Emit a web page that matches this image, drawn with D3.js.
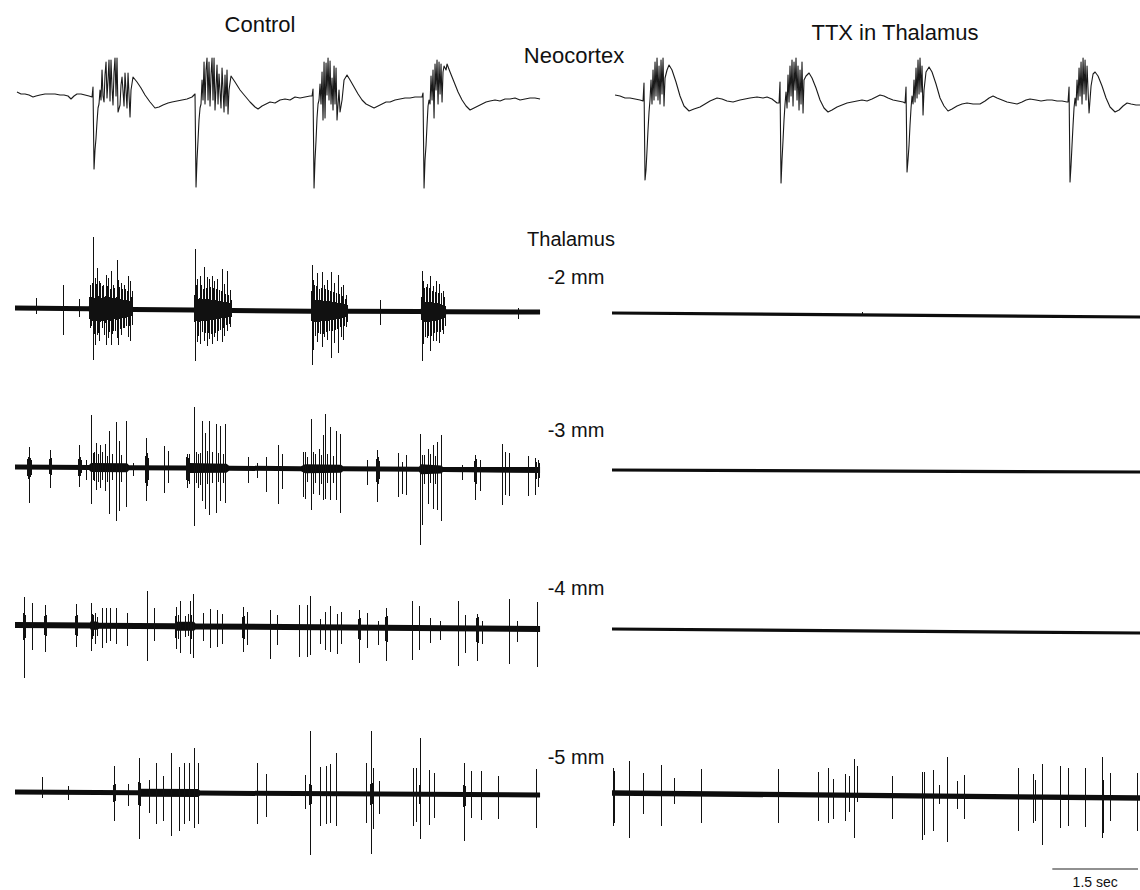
<!DOCTYPE html>
<html>
<head>
<meta charset="utf-8">
<script src="https://cdn.jsdelivr.net/npm/d3@7"></script>
<style>
  body { margin: 0; background: #fff; }
  svg { display: block; }
  text { font-family: "Liberation Sans", Arial, sans-serif; fill: #111; }
</style>
</head>
<body>
<script>
// ---------------------------------------------------------------
// Field potentials: neocortex (stored in µV) and thalamic
// multi-unit records at four depths. Time in ms from sweep start.
// ---------------------------------------------------------------

// Neocortical EEG, control sweep: [time ms, µV]
const neoControl = [
  [35,50],[105,30],[175,30],[245,20],[315,0],[368,10],[438,20],[525,30],[613,30],[700,30],[788,20],[858,20],[928,10],[980,-20],[1033,10],[1085,30],[1155,30],[1225,20],[1295,10],[1348,0],
  [1365,100],[1383,-720],[1400,-530],[1418,-410],[1435,-250],[1453,-110],[1470,-70],[1488,70],[1505,-30],[1523,270],[1540,10],[1558,-50],[1575,220],[1593,350],[1610,-10],[1628,170],[1645,370],[1663,-40],[1680,370],[1698,90],[1715,-80],[1733,250],[1750,390],[1768,10],[1785,390],[1803,-150],[1838,-80],[1855,120],[1873,200],[1908,-90],[1925,240],[1960,-110],[1978,240],[2013,-200],[2030,70],[2065,200],[2135,150],[2205,90],[2275,20],[2363,-50],[2450,-110],[2520,-100],[2590,-80],[2678,-60],[2748,-50],[2835,-40],[2923,-30],[3010,-20],[3098,0],
  [3150,30],[3168,-900],[3185,-630],[3203,-430],[3220,-230],[3238,-110],[3255,-70],[3273,170],[3290,-30],[3308,350],[3325,-70],[3343,270],[3360,390],[3378,-30],[3395,350],[3413,-90],[3430,220],[3448,390],[3465,-30],[3483,390],[3500,-130],[3535,320],[3553,-70],[3570,230],[3605,-110],[3623,290],[3658,-150],[3675,220],[3693,-90],[3710,270],[3728,-170],[3745,70],[3780,210],[3850,150],[3938,70],[4025,10],[4113,-50],[4200,-100],[4253,-120],[4323,-90],[4393,-70],[4463,-50],[4550,-60],[4638,-30],[4725,-20],[4813,-30],[4900,0],[4988,-10],[5075,0],[5163,10],
  [5198,10],[5215,80],[5233,-910],[5250,-630],[5268,-430],[5285,-210],[5303,-70],[5320,-30],[5338,130],[5355,-70],[5373,250],[5390,-230],[5408,350],[5425,-210],[5443,340],[5460,20],[5478,390],[5495,-30],[5513,360],[5530,-70],[5548,190],[5565,-130],[5583,310],[5600,-70],[5618,290],[5635,-230],[5670,70],[5688,-150],[5723,-30],[5758,170],[5810,220],[5863,170],[5933,100],[6003,30],[6073,-30],[6143,-70],[6213,-90],[6283,-110],[6353,-90],[6423,-70],[6493,-50],[6563,-50],[6650,-30],[6738,-20],[6825,-10],[6913,-10],[7000,0],[7088,0],
  [7123,0],[7140,40],[7158,-910],[7175,-630],[7193,-480],[7210,-280],[7228,-90],[7245,-30],[7263,-70],[7280,210],[7298,-30],[7315,270],[7333,-210],[7350,330],[7368,70],[7385,370],[7403,-70],[7420,350],[7438,30],[7455,330],[7473,-50],[7490,250],[7508,310],[7543,270],[7560,330],[7613,250],[7683,150],[7753,50],[7823,-30],[7893,-90],[7963,-130],[8033,-110],[8103,-90],[8173,-70],[8243,-50],[8313,-40],[8400,-30],[8488,-40],[8575,-20],[8663,-20],[8750,-10],[8838,-30],[8925,-20],[9013,-10],[9100,-10],[9188,-20]
];

// Neocortical EEG with TTX in thalamus: [time ms, µV]
const neoTTX = [
  [53,50],[140,40],[228,20],[315,20],[403,10],[490,0],[543,-10],
  [560,170],[578,-800],[595,-700],[613,-500],[630,-300],[648,-120],[665,0],[683,200],[700,-40],[718,300],[735,0],[753,380],[770,40],[788,420],[805,0],[823,340],[840,-40],[858,400],[875,60],[893,420],[910,-60],[928,220],[963,300],[998,350],[1050,300],[1120,180],[1190,40],[1260,-60],[1348,-110],[1435,-90],[1540,-70],[1628,-40],[1715,-10],[1838,20],[1925,10],[2013,-10],[2118,-20],[2240,0],[2328,10],[2415,20],[2538,30],[2643,20],[2713,30],[2800,10],[2888,-30],[2923,-30],
  [2940,180],[2958,-830],[2975,-600],[2993,-400],[3010,-200],[3028,-40],[3045,80],[3063,-80],[3080,250],[3098,-20],[3115,340],[3133,40],[3150,400],[3168,-60],[3185,380],[3203,100],[3220,420],[3238,0],[3255,340],[3273,-100],[3290,300],[3308,-40],[3325,380],[3343,-130],[3360,200],[3395,240],[3448,270],[3500,220],[3570,120],[3640,0],[3710,-80],[3780,-120],[3850,-100],[3938,-70],[4025,-50],[4113,-30],[4200,-20],[4288,-10],[4375,0],[4463,-10],[4550,10],[4620,30],[4690,50],[4760,40],[4830,20],[4918,0],[5005,-10],[5093,-20],[5128,-30],
  [5145,130],[5163,-720],[5180,-600],[5198,-450],[5215,-250],[5233,-80],[5250,40],[5268,-40],[5285,200],[5303,-20],[5320,320],[5338,20],[5355,400],[5373,60],[5390,420],[5408,80],[5425,340],[5443,-150],[5460,100],[5495,280],[5548,330],[5600,280],[5670,160],[5740,20],[5810,-60],[5880,-110],[5950,-90],[6038,-60],[6125,-40],[6213,-30],[6318,-40],[6440,-40],[6528,-10],[6598,20],[6668,40],[6738,20],[6825,0],[6913,-20],[7000,-30],[7088,-40],[7175,-20],[7245,0],[7315,10],[7420,0],[7508,-10],[7613,0],[7700,0],[7788,-10],[7875,-10],[7963,-20],[7980,-20],
  [7998,130],[8015,-820],[8033,-650],[8050,-450],[8068,-250],[8085,-80],[8103,20],[8120,-60],[8138,200],[8155,0],[8173,320],[8190,40],[8208,380],[8225,-40],[8243,420],[8260,60],[8278,400],[8295,0],[8313,340],[8330,100],[8348,-130],[8383,140],[8418,260],[8453,280],[8505,240],[8575,140],[8645,20],[8715,-70],[8803,-120],[8873,-100],[8943,-60],[9013,-30],[9083,-40],[9170,-50],[9240,-50]
];

// Thalamic unit discharges: [time ms, positive peak µV, negative peak µV]
const thal2Control = [
  [368,100,60],[840,240,260],[1120,100,80],
  [1295,120,100],[1313,240,190],[1330,120,170],[1348,260,120],[1365,720,510],[1383,110,250],[1400,310,360],[1418,250,120],[1435,410,260],[1453,130,240],[1470,280,320],[1488,260,130],[1505,110,120],[1523,230,190],[1540,240,120],[1558,120,260],[1575,130,140],[1593,340,360],[1610,230,110],[1628,310,290],[1645,120,230],[1663,200,120],[1680,380,360],[1698,110,250],[1715,240,220],[1733,210,100],[1750,110,220],[1768,120,110],[1785,490,290],[1803,290,360],[1820,220,100],[1838,100,200],[1855,260,260],[1873,200,90],[1890,90,190],[1908,240,190],[1925,200,90],[1943,90,170],[1960,180,80],[1978,330,280],[1995,80,170],[2013,280,320],[2030,120,70],[2048,180,160],
  [3133,150,120],[3150,610,510],[3168,250,110],[3185,310,320],[3203,110,260],[3220,120,120],[3238,340,340],[3255,250,110],[3273,110,220],[3290,210,110],[3308,430,310],[3325,110,230],[3343,220,110],[3360,330,360],[3378,110,230],[3395,310,290],[3413,230,100],[3430,100,240],[3448,340,340],[3465,220,100],[3483,290,270],[3500,100,230],[3518,210,90],[3535,310,310],[3553,90,210],[3570,200,90],[3588,90,200],[3605,190,80],[3623,410,320],[3640,80,180],[3658,260,260],[3675,160,80],[3693,80,150],[3710,390,210],[3728,150,70],[3745,70,140],[3763,210,160],[3780,110,60],
  [5180,200,100],[5198,460,540],[5215,310,390],[5233,260,110],[5250,110,250],[5268,250,110],[5285,380,310],[5303,110,220],[5320,220,110],[5338,110,230],[5355,230,100],[5373,390,360],[5390,100,230],[5408,260,260],[5425,220,100],[5443,100,210],[5460,310,290],[5478,210,100],[5495,100,200],[5513,200,90],[5530,390,470],[5548,90,200],[5565,190,90],[5583,280,320],[5600,90,190],[5618,180,80],[5635,80,180],[5653,360,420],[5670,170,80],[5688,80,160],[5705,240,260],[5723,150,70],[5740,260,290],[5758,70,150],[5775,120,60],[5793,160,160],[5810,60,110],[6388,110,140],
  [7105,150,80],[7123,410,490],[7140,310,320],[7158,240,100],[7175,100,250],[7193,250,100],[7210,280,260],[7228,100,240],[7245,240,100],[7263,360,390],[7280,100,240],[7298,210,90],[7315,260,290],[7333,90,210],[7350,200,90],[7368,310,290],[7385,90,200],[7403,190,80],[7420,280,310],[7438,80,200],[7455,190,70],[7473,70,180],[7490,210,220],[7508,150,60],[7525,60,140],[8803,40,70]
];
const thal3Control = [
  [210,80,90],[228,100,120],[245,200,360],[263,90,100],[280,70,80],[595,80,70],[613,170,210],[630,90,80],[1103,80,90],[1120,220,200],[1138,100,90],[1155,70,60],[1243,70,130],[1330,520,370],[1365,140,130],[1383,150,140],[1418,240,230],[1453,130,150],[1488,220,210],[1523,150,130],[1575,240,230],[1610,120,140],[1645,370,460],[1698,140,120],[1768,460,530],[1820,270,430],[1855,130,140],[1943,470,390],[2065,50,80],[2275,120,150],[2293,300,330],[2310,150,180],[2328,100,120],[2608,220,250],[2678,170,150],[2993,110,120],[3010,140,200],[3028,100,130],[3045,140,160],[3133,610,580],[3168,160,150],[3203,140,200],[3238,150,170],[3273,470,330],[3325,350,410],[3360,170,160],[3395,470,470],[3448,160,150],[3518,440,450],[3553,150,140],[3588,420,330],[3640,140,150],[3675,440,350],[4078,110,150],[4235,50,100],[4393,110,240],[4603,240,350],[4673,150,200],[5040,170,280],[5075,170,300],[5110,120,130],[5180,500,410],[5215,170,250],[5250,150,140],[5320,200,260],[5355,140,150],[5390,340,310],[5425,550,300],[5460,150,140],[5513,420,310],[5565,130,140],[5618,380,310],[5688,350,440],[6160,90,160],[6318,100,130],[6335,190,330],[6353,120,150],[6370,80,100],[6703,160,280],[6773,70,250],[6843,140,260],[7088,350,760],[7123,140,560],[7158,140,150],[7228,200,350],[7263,150,140],[7315,240,400],[7350,130,150],[7385,270,410],[7455,340,520],[7823,50,100],[8033,90,120],[8050,150,300],[8068,110,140],[8138,100,210],[8523,260,350],[8575,180,250],[8645,170,260],[8978,140,260],[9100,120,250],[9118,80,90],[9153,100,170],[9170,70,80]
];
const thal4Control = [
  [140,120,150],[158,280,530],[175,100,130],[298,220,250],[508,90,100],[525,200,270],[543,100,110],[1050,90,100],[1068,210,220],[1085,100,110],[1330,230,250],[1348,120,130],[1365,110,100],[1400,130,180],[1435,90,100],[1523,180,220],[1593,180,170],[1663,180,150],[1768,180,180],[1960,130,200],[2310,350,350],[2433,180,150],[2800,100,120],[2818,190,230],[2853,110,130],[2888,250,270],[2975,100,110],[3028,120,100],[3063,250,280],[3080,110,130],[3115,320,320],[3290,130,150],[3413,170,220],[3535,170,200],[3623,130,170],[3973,100,110],[3990,200,250],[4008,110,120],[4060,150,180],[4463,170,320],[4585,120,180],[4970,220,300],[5110,220,300],[5163,310,280],[5338,80,170],[5425,150,230],[5513,210,250],[5635,130,270],[5705,150,170],[6003,90,110],[6020,180,350],[6038,100,120],[6160,150,200],[6353,70,170],[6475,110,130],[6493,200,330],[6510,120,140],[6948,270,320],[7070,220,220],[7263,100,150],[7438,70,120],[7753,270,380],[7875,130,250],[8068,110,130],[8085,150,320],[8103,120,140],[8173,80,150],[8645,300,350],[8785,80,130],[9135,270,380]
];
const thal5Control = [
  [473,150,60],[928,60,80],[1715,80,90],[1733,270,280],[1750,90,80],[1978,90,130],[2153,110,120],[2170,350,460],[2188,100,130],[2345,130,200],[2468,300,310],[2590,170,280],[2730,400,430],[2870,260,380],[2958,300,310],[3045,300,280],[3133,450,350],[3203,300,310],[4235,300,310],[4393,190,240],[5075,190,150],[5145,100,110],[5163,630,610],[5180,90,100],[5338,270,320],[5443,280,300],[5513,300,290],[5618,410,320],[6143,310,290],[6213,100,110],[6230,630,600],[6248,110,100],[6265,260,350],[6370,130,200],[6965,260,320],[7018,260,280],[7070,90,100],[7088,560,450],[7245,240,310],[7333,210,240],[7840,100,120],[7858,320,460],[7875,90,110],[7980,240,230],[8155,240,250],[8453,190,240],[9118,260,330]
];
const thal2TTX = [[4375,30,10]];
const thal3TTX = [];
const thal4TTX = [];
const thal5TTX = [
  [18,250,330],[35,220,300],[298,320,450],[543,200,210],[858,280,330],[1085,160,100],[1558,250,290],[2905,260,280],[3605,230,260],[3780,270,280],[3868,160,240],[4078,210,260],[4148,190,170],[4235,360,430],[4288,290,70],[4900,200,230],[5425,240,440],[5460,240,390],[5618,260,350],[5723,110,80],[5863,390,460],[6038,150,130],[6160,210,230],[7105,290,340],[7368,230,260],[7403,170,240],[7525,330,480],[7840,310,310],[7980,290,290],[8278,290,300],[8575,410,400],[8593,180,350],[8715,250,230],[9188,250,330]
];

// Background noise half-width along each record: [time ms, µV]
const noise2Control = [[0,25],[1290,25],[1330,80],[1900,70],[2040,40],[2070,25],[3130,25],[3160,80],[3700,60],[3790,25],[5180,25],[5210,80],[5780,50],[5830,25],[7100,25],[7130,80],[7500,45],[7550,25],[9188,25]];
const noise3Control = [[0,25],[1295,25],[1330,45],[1960,45],[1995,25],[3000,25],[3045,50],[3700,45],[3745,25],[5005,25],[5075,45],[5705,40],[5740,25],[7070,25],[7105,50],[7455,40],[7490,25],[9188,30]];
const noise4Control = [[0,30],[1313,30],[1330,45],[1435,40],[1470,30],[2800,30],[2830,45],[3130,45],[3160,30],[9188,30]];
const noise5Control = [[0,25],[2150,25],[2170,40],[3200,40],[3240,25],[9188,25]];
const noiseTTXquiet = [[0,16],[9240,16]];
const noise5TTX = [[0,27],[9240,27]];

// Slow baseline drift of each record: [time ms, µV]
const drift2Control = [[0,30],[4500,0],[9188,-10]];
const drift3Control = [[0,0],[9188,-30]];
const drift4Control = [[0,0],[9188,-40]];
const drift5Control = [[0,0],[9188,-30]];
const drift2TTX = [[0,0],[9240,-40]];
const drift3TTX = [[0,0],[9240,-20]];
const drift4TTX = [[0,0],[9240,-40]];
const drift5TTX = [[0,0],[9240,-50]];

// Text
const conditionLabels = ["Control", "TTX in Thalamus"];
const regionLabels = ["Neocortex", "Thalamus"];
const depthLabels = ["-2 mm", "-3 mm", "-4 mm", "-5 mm"];
const scaleBarMs = 1500;
const scaleBarLabel = "1.5 sec";

// ---------------------------------------------------------------
const width = 1140, height = 890;
const svg = d3.select("body").append("svg")
  .attr("width", width).attr("height", height);

const sweepMs = 9250;
const xControl = d3.scaleLinear().domain([0, sweepMs]).range([15, 543.6]);
const xTTX = d3.scaleLinear().domain([0, sweepMs]).range([612, 1140.6]);

// vertical gain: 10 µV per pixel, centred on each row
const rowScale = base => d3.scaleLinear().domain([-1000, 1000]).range([base + 100, base - 100]);

// Neocortex traces
const neoRows = [
  { data: neoControl, x: xControl, y: rowScale(97) },
  { data: neoTTX, x: xTTX, y: rowScale(100) }
];
neoRows.forEach(r => {
  const line = d3.line().x(d => r.x(d[0])).y(d => r.y(d[1]));
  svg.append("path").datum(r.data)
    .attr("d", line)
    .attr("fill", "none")
    .attr("stroke", "#1a1a1a")
    .attr("stroke-width", 1.1)
    .attr("stroke-linejoin", "round");
});

// Thalamic traces
const thalRows = [
  { spikes: thal2Control, noise: noise2Control, drift: drift2Control, x: xControl, base: 311 },
  { spikes: thal3Control, noise: noise3Control, drift: drift3Control, x: xControl, base: 467 },
  { spikes: thal4Control, noise: noise4Control, drift: drift4Control, x: xControl, base: 625 },
  { spikes: thal5Control, noise: noise5Control, drift: drift5Control, x: xControl, base: 792 },
  { spikes: thal2TTX, noise: noiseTTXquiet, drift: drift2TTX, x: xTTX, base: 313 },
  { spikes: thal3TTX, noise: noiseTTXquiet, drift: drift3TTX, x: xTTX, base: 470 },
  { spikes: thal4TTX, noise: noiseTTXquiet, drift: drift4TTX, x: xTTX, base: 629 },
  { spikes: thal5TTX, noise: noise5TTX, drift: drift5TTX, x: xTTX, base: 793 }
];

thalRows.forEach(r => {
  const y = rowScale(r.base);
  const drift = d3.scaleLinear()
    .domain(r.drift.map(d => d[0]))
    .range(r.drift.map(d => d[1]));

  // noise band around the baseline
  const band = d3.area()
    .x(d => r.x(d[0]))
    .y0(d => y(drift(d[0]) - d[1]))
    .y1(d => y(drift(d[0]) + d[1]));
  svg.append("path").datum(r.noise)
    .attr("d", band)
    .attr("fill", "#0d0d0d");

  // unit discharges
  svg.append("g")
    .attr("shape-rendering", "crispEdges")
    .selectAll("line")
    .data(r.spikes)
    .join("line")
    .attr("x1", d => Math.round(r.x(d[0])) + 0.5)
    .attr("x2", d => Math.round(r.x(d[0])) + 0.5)
    .attr("y1", d => y(drift(d[0]) + d[1]))
    .attr("y2", d => y(drift(d[0]) - d[2]))
    .attr("stroke", "#111")
    .attr("stroke-width", 1);
});

// Labels
svg.append("text").attr("x", 260).attr("y", 32).attr("text-anchor", "middle")
  .attr("font-size", 22).text(conditionLabels[0]);
svg.append("text").attr("x", 895).attr("y", 40).attr("text-anchor", "middle")
  .attr("font-size", 22).text(conditionLabels[1]);
svg.append("text").attr("x", 574).attr("y", 63).attr("text-anchor", "middle")
  .attr("font-size", 22).text(regionLabels[0]);
svg.append("text").attr("x", 571).attr("y", 246).attr("text-anchor", "middle")
  .attr("font-size", 20).text(regionLabels[1]);

const depthBaselines = [284, 437, 595, 764];
depthLabels.forEach((t, i) => {
  svg.append("text").attr("x", 576).attr("y", depthBaselines[i]).attr("text-anchor", "middle")
    .attr("font-size", 20).text(t);
});

// Time scale bar
const barEnd = 9205;
const barY = 869;
svg.append("line")
  .attr("x1", xTTX(barEnd - scaleBarMs)).attr("x2", xTTX(barEnd))
  .attr("y1", barY).attr("y2", barY)
  .attr("stroke", "#222").attr("stroke-width", 1.2);
svg.append("text")
  .attr("x", (xTTX(barEnd - scaleBarMs) + xTTX(barEnd)) / 2)
  .attr("y", barY + 18).attr("text-anchor", "middle")
  .attr("font-size", 14).text(scaleBarLabel);
</script>
</body>
</html>
